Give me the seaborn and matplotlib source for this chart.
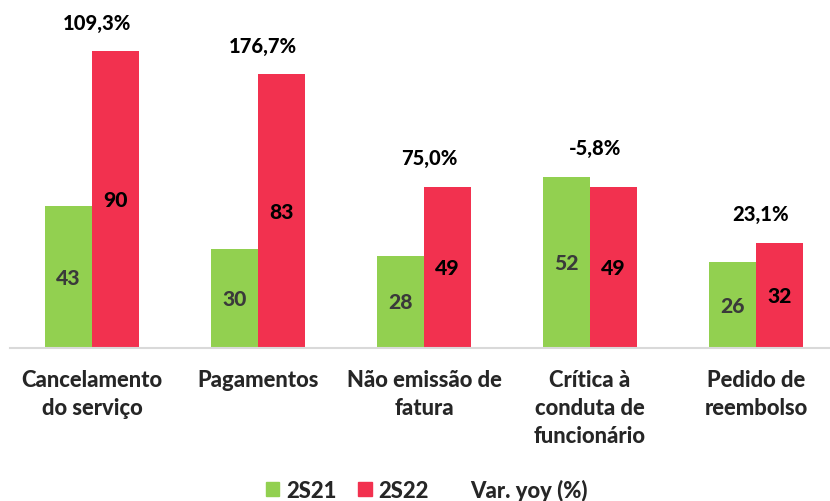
import matplotlib
matplotlib.use("Agg")
import matplotlib.pyplot as plt
from matplotlib import font_manager
import numpy as np
import pandas as pd
import seaborn as sns
from matplotlib.lines import Line2D
from matplotlib.patches import Patch

categories = ["Cancelamento\ndo serviço", "Pagamentos", "Não emissão de\nfatura",
              "Crítica à\nconduta de\nfuncionário", "Pedido de\nreembolso"]
periods = ["2S21", "2S22"]
s21 = [43, 30, 28, 52, 26]
s22 = [90, 83, 49, 49, 32]
var_yoy = [109.3, 176.7, 75.0, -5.8, 23.1]

GREEN, RED = "#92D050", "#F2314F"


def pick_bold_family():
    # primeira familia instalada que tenha variante negrito
    for fam in ["Lato", "Roboto", "Liberation Sans", "Open Sans", "Noto Sans", "DejaVu Sans"]:
        for f in font_manager.fontManager.ttflist:
            w = f.weight if isinstance(f.weight, int) else 700 if "bold" in str(f.weight).lower() else 400
            if f.name == fam and w >= 700 and f.style == "normal":
                return fam, w
    return "DejaVu Sans", "bold"


FAMILY, WEIGHT = pick_bold_family()

sns.set_style("white")
plt.rcParams["font.family"] = [FAMILY, "DejaVu Sans"]
plt.rcParams["font.weight"] = WEIGHT

data = pd.DataFrame({
    "categoria": categories * 2,
    "periodo": [periods[0]] * len(categories) + [periods[1]] * len(categories),
    "valor": s21 + s22,
})

fig = plt.figure(figsize=(8.3, 5.02), dpi=100)
ax = fig.add_axes([10 / 830, 1 - 349 / 502, 820 / 830, 346 / 502])

sns.barplot(data=data, x="categoria", y="valor", hue="periodo", order=categories,
            hue_order=periods, palette=[GREEN, RED], width=0.566, dodge=True,
            saturation=1, legend=False, linewidth=0, ax=ax)

# valores dentro das barras
ax.bar_label(ax.containers[0], label_type="center", color="#3A3A3A",
             fontsize=15.2, fontweight=WEIGHT)
ax.bar_label(ax.containers[1], label_type="center", color="black",
             fontsize=15.2, fontweight=WEIGHT)

# variacao anual acima de cada grupo
for i, (a, b, v) in enumerate(zip(s21, s22, var_yoy)):
    txt = f"{v:.1f}%".replace(".", ",")
    ax.text(i + 0.03, max(a, b) + 8.8, txt, ha="center", va="center",
            fontsize=14.5, fontweight=WEIGHT, color="black")

ax.set_xlim(-0.494, 4.446)
ax.set_ylim(0, 105)
ax.set_xlabel("")
ax.set_ylabel("")
ax.set_yticks([])
for side in ["left", "right", "top"]:
    ax.spines[side].set_visible(False)
ax.spines["bottom"].set_color("#D9D9D9")
ax.spines["bottom"].set_linewidth(1.5)
ax.tick_params(axis="x", length=0, pad=15, labelsize=15.8)
for lbl in ax.get_xticklabels():
    lbl.set_fontweight(WEIGHT)
    lbl.set_linespacing(1.42)
    lbl.set_multialignment("center")

handles = [Patch(color=GREEN), Patch(color=RED), Line2D([], [], color="none")]
fig.legend(handles, ["2S21", "2S22", "Var. yoy (%)"], loc="center",
           bbox_to_anchor=(427 / 830, 1 - 491 / 502), ncol=3, frameon=False,
           handlelength=0.6, handleheight=0.6, handletextpad=0.3,
           columnspacing=1.0, prop={"family": FAMILY, "weight": WEIGHT, "size": 15.8})

fig.savefig("out.png", dpi=100)
